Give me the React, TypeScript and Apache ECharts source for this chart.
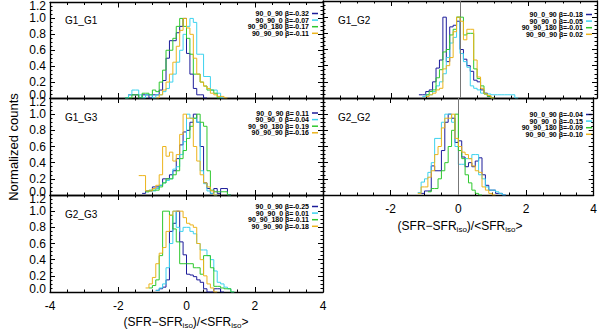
import React, { useEffect, useRef } from "react";
import * as echarts from "echarts";

// ---------- data ----------
const runNames = ["90_0_90", "90_90_0", "90_90_180", "90_90_90"];
const runColors = ["#1c1c9a", "#3cd2ee", "#2ec82e", "#ecb41c"];
const panelNames = ["G1_G1", "G1_G2", "G1_G3", "G2_G2", "G2_G3"];
const binWidth = 0.1;
const xTickValues = [-4, -2, 0, 2, 4];
const yTickValues = [0, 0.2, 0.4, 0.6, 0.8, 1.0, 1.2];

// beta per run (navy, cyan, green, gold)
const betaG1G1 = [-0.32, -0.07, -0.17, -0.11];
const betaG1G2 = [-0.18, -0.05, -0.01, 0.02];
const betaG1G3 = [0.11, -0.04, 0.19, -0.16];
const betaG2G2 = [-0.04, -0.15, -0.09, -0.1];
const betaG2G3 = [-0.25, 0.01, -0.11, -0.18];

// histogram left-edge start of first bin per run
const startG1G1 = [-1.8, -1.8, -1.8, -0.9];
const startG1G2 = [-1.2, -1.1, -1.0, -1.0];
const startG1G3 = [-1.3, -1.2, -1.2, -1.4];
const startG2G2 = [-1.1, -1.2, -0.9, -1.2];
const startG2G3 = [-0.9, -0.9, -1.1, -1.2];

// normalized counts
const navyG1G1 = [0, 0.04, 0.04, 0.04, 0, 0.04, 0.04, 0, 0.04, 0.04, 0.1, 0.22, 0.5, 0.72, 0.72, 0.82, 0.9, 1.0, 0.56, 0.3, 0.12, 0.04, 0.04, 0];
const cyanG1G1 = [0, 0.04, 0.1, 0.1, 0.04, 0, 0.04, 0.04, 0, 0.04, 0.04, 0.08, 0.12, 0.2, 0.3, 0.45, 0.6, 0.8, 0.9, 1.0, 0.95, 0.55, 0.55, 0.27, 0.27, 0.1, 0.1, 0.06, 0];
const greenG1G1 = [0, 0, 0.04, 0.04, 0, 0.06, 0.06, 0.04, 0.1, 0.08, 0.2, 0.35, 0.6, 0.6, 0.75, 0.9, 1.0, 0.9, 0.75, 0.55, 0.3, 0.3, 0.2, 0.15, 0.1, 0.1, 0.06, 0];
const goldG1G1 = [0, 0.04, 0.1, 0.2, 0.3, 0.45, 0.65, 0.85, 1.0, 0.88, 0.8, 0.5, 0.3, 0.2, 0.15, 0.12, 0.06, 0.04, 0.02, 0.02, 0];

const navyG1G2 = [0.04, 0.04, 0.08, 0.1, 0.2, 0.37, 0.47, 1.0, 0.45, 0.88, 0.9, 0.95, 0.6, 0.48, 0.4, 0.33, 0.22, 0.2, 0.1, 0.06, 0.02, 0];
const cyanG1G2 = [0.02, 0.04, 0.04, 0.08, 0.15, 0.2, 0.3, 0.5, 0.68, 0.75, 1.0, 0.55, 0.45, 0.38, 0.15, 0.12, 0.1, 0.06, 0.05, 0.05, 0.04, 0.04, 0.04, 0.04, 0.04, 0.04, 0.04, 0];
const greenG1G2 = [0.04, 0.08, 0.1, 0.25, 0.35, 0.57, 0.6, 0.78, 0.85, 1.0, 1.0, 0.78, 0.8, 0.8, 0.36, 0.24, 0.15, 0.05, 0.02, 0];
const goldG1G2 = [0.02, 0.04, 0.06, 0.1, 0.12, 0.36, 0.4, 0.5, 0.82, 1.0, 0.95, 0.72, 0.85, 0.85, 0.47, 0.26, 0.12, 0.05, 0.03, 0];

const navyG1G3 = [0.02, 0.05, 0.05, 0.1, 0.1, 0.12, 0.2, 0.2, 0.25, 0.3, 0.45, 0.62, 0.78, 0.8, 0.9, 1.0, 0.9, 0.6, 0.15, 0.08, 0.02, 0.08, 0.02, 0.08, 0.08, 0];
const cyanG1G3 = [0.04, 0.05, 0.05, 0.08, 0.12, 0.15, 0.18, 0.2, 0.32, 0.35, 0.5, 0.66, 1.0, 0.95, 0.95, 0.9, 0.3, 0.14, 0.05, 0.02, 0];
const greenG1G3 = [0.04, 0.06, 0.06, 0.06, 0.1, 0.15, 0.2, 0.2, 0.25, 0.3, 0.45, 0.55, 0.7, 0.85, 0.95, 1.0, 0.9, 0.85, 0.3, 0.06, 0.04, 0.04, 0.04, 0.04, 0];
const goldG1G3 = [0.24, 0.24, 0.05, 0.05, 0.08, 0.12, 0.25, 0.6, 0.48, 0.53, 0.42, 0.5, 0.75, 1.0, 0.95, 0.95, 0.6, 0.42, 0.25, 0.15, 0.1, 0.05, 0];

const navyG2G2 = [0.02, 0.05, 0.05, 0.36, 0.3, 0.3, 0.55, 0.9, 1.0, 0.95, 0.65, 0.67, 0.47, 0.35, 0.4, 0.35, 0.42, 0.46, 0.25, 0.12, 0.06, 0.06, 0.02, 0.02, 0];
const cyanG2G2 = [0.03, 0.16, 0.2, 0.28, 0.4, 0.7, 0.7, 0.9, 1.0, 1.0, 0.9, 0.6, 0.38, 0.38, 0.45, 0.45, 0.5, 0.5, 0.25, 0.2, 0.1, 0.06, 0.06, 0.04, 0.02, 0];
const greenG2G2 = [0.04, 0.08, 0.08, 0.2, 0.3, 0.4, 0.6, 0.8, 1.0, 0.55, 0.45, 0.25, 0.15, 0.06, 0.02, 0];
const goldG2G2 = [0.02, 0.1, 0.1, 0.22, 0.3, 0.5, 0.6, 0.83, 0.95, 0.95, 1.0, 0.7, 0.6, 0.53, 0.5, 0.45, 0.36, 0.3, 0.28, 0.1, 0.06, 0.02, 0];

const navyG2G3 = [0.02, 0.04, 0.06, 0.15, 0.75, 0.85, 1.0, 0.62, 0.46, 0.22, 0.21, 0.19, 0.15, 0.12, 0.04, 0, 0, 0.04, 0.04, 0];
const cyanG2G3 = [0.02, 0.05, 0.1, 0.3, 0.6, 1.0, 0.8, 0.75, 0.8, 0.8, 0.75, 0.72, 0.6, 0.52, 0.52, 0.45, 0.4, 0.26, 0.12, 0.1, 0.06, 0.04, 0];
const greenG2G3 = [0.05, 0.08, 0.15, 0.45, 1.0, 1.0, 0.95, 0.78, 0.62, 0.35, 0.35, 0.35, 0.35, 0.3, 0.3, 0.22, 0.45, 0.45, 0.3, 0.07, 0.07, 0.05, 0.04, 0.04, 0];
const goldG2G3 = [0.05, 0.1, 0.18, 0.35, 0.48, 0.55, 0.75, 0.95, 1.0, 1.0, 1.0, 0.92, 0.85, 0.83, 0.8, 0.6, 0.4, 0.2, 0.1, 0.05, 0];

const panelBetas = [betaG1G1, betaG1G2, betaG1G3, betaG2G2, betaG2G3];
const panelStarts = [startG1G1, startG1G2, startG1G3, startG2G2, startG2G3];
const panelCounts = [
  [navyG1G1, cyanG1G1, greenG1G1, goldG1G1],
  [navyG1G2, cyanG1G2, greenG1G2, goldG1G2],
  [navyG1G3, cyanG1G3, greenG1G3, goldG1G3],
  [navyG2G2, cyanG2G2, greenG2G2, goldG2G2],
  [navyG2G3, cyanG2G3, greenG2G3, goldG2G3],
];

// ---------- layout ----------
const FONT = "Liberation Sans, Arial, Helvetica, sans-serif";
const PANEL_H = 97;
const layout = [
  { left: 50, top: 1, width: 273, rightCol: false, xLabels: false, legendTop: 12.5 },
  { left: 323, top: 1, width: 274, rightCol: true, xLabels: false, legendTop: 13.5 },
  { left: 50, top: 98, width: 273, rightCol: false, xLabels: false, legendTop: 15 },
  { left: 323, top: 98, width: 274, rightCol: true, xLabels: true, legendTop: 16.5 },
  { left: 50, top: 195, width: 273, rightCol: false, xLabels: true, legendTop: 11.5 },
];

function toSteps(start: number, vals: number[]) {
  const d = vals.map((v, i) => [+(start + i * binWidth).toFixed(3), v]);
  d.push([+(start + vals.length * binWidth).toFixed(3), 0]);
  return d;
}

function betaText(b: number) {
  return b < 0 ? "β=-" + Math.abs(b).toFixed(2) : "β= " + b.toFixed(2);
}

function buildOption() {
  const grid: any[] = [];
  const xAxis: any[] = [];
  const yAxis: any[] = [];
  const series: any[] = [];
  const graphic: any[] = [];

  const tickCommon = {
    axisLine: { show: true, onZero: false, lineStyle: { color: "#000", width: 1.3 } },
    axisTick: { show: true, inside: true, length: 5, lineStyle: { color: "#000", width: 1 } },
    minorTick: { show: true, splitNumber: 4, length: 2.5, lineStyle: { color: "#000", width: 1 } },
    splitLine: { show: false },
    minorSplitLine: { show: false },
  };

  layout.forEach((L, p) => {
    grid.push({ left: L.left, top: L.top, width: L.width, height: PANEL_H, containLabel: false });
    const xMin = xTickValues[0];
    const xMax = xTickValues[xTickValues.length - 1];
    const yMax = yTickValues[yTickValues.length - 1];
    xAxis.push({
      gridIndex: p, type: "value", position: "bottom", min: xMin, max: xMax, interval: 2,
      ...tickCommon,
      axisLabel: {
        show: L.xLabels, color: "#000", fontSize: 12, fontFamily: FONT, margin: 8,
        formatter: (v: number) => (L.rightCol && v === xMin ? "" : String(v)),
      },
    });
    xAxis.push({
      gridIndex: p, type: "value", position: "top", min: xMin, max: xMax, interval: 2,
      ...tickCommon, axisLabel: { show: false },
    });
    yAxis.push({
      gridIndex: p, type: "value", position: "left", min: 0, max: yMax, interval: 0.2,
      ...tickCommon,
      axisLabel: {
        show: !L.rightCol, color: "#000", fontSize: 12, fontFamily: FONT, margin: 4,
        formatter: (v: number) => {
          const s = v.toFixed(1);
          if (Math.abs(v) < 1e-9) return "{lo|" + s + "}";
          if (Math.abs(v - yMax) < 1e-9) return "{hi|" + s + "}";
          return s;
        },
        rich: {
          lo: { padding: [0, 0, 7, 0], fontSize: 12, fontFamily: FONT, color: "#000" },
          hi: { padding: [7, 0, 0, 0], fontSize: 12, fontFamily: FONT, color: "#000" },
        },
      },
    });
    yAxis.push({
      gridIndex: p, type: "value", position: "right", min: 0, max: yMax, interval: 0.2,
      ...tickCommon, axisLabel: { show: false },
    });

    panelCounts[p].forEach((vals, r) => {
      const s: any = {
        type: "line",
        name: runNames[r],
        xAxisIndex: 2 * p,
        yAxisIndex: 2 * p,
        data: toSteps(panelStarts[p][r], vals),
        step: "end",
        showSymbol: false,
        symbol: "none",
        silent: true,
        z: 3 + r,
        lineStyle: { color: runColors[r], width: 1 },
      };
      if (r === 0 && L.rightCol) {
        s.markLine = {
          silent: true,
          symbol: ["none", "none"],
          label: { show: false },
          lineStyle: { color: "#777", width: 1, type: "solid" },
          data: [{ xAxis: 0 }],
        };
      }
      series.push(s);
    });

    graphic.push({
      type: "text", left: L.left + 15, top: L.top + 14, silent: true,
      style: { text: panelNames[p], fontSize: 10, fontFamily: FONT, fill: "#000" },
    });
    const right = L.left + L.width;
    runNames.forEach((nm, r) => {
      const y = L.top + L.legendTop + r * 6.6;
      graphic.push({
        type: "text", x: right - 14, y, silent: true,
        style: {
          text: nm + " " + betaText(panelBetas[p][r]),
          fontSize: 7, fontFamily: FONT, fontWeight: "bold", fill: "#000",
          align: "right", verticalAlign: "middle",
        },
      });
      graphic.push({
        type: "line", silent: true,
        shape: { x1: right - 11, y1: y, x2: right - 5, y2: y },
        style: { stroke: runColors[r], lineWidth: 1.5 },
      });
    });
  });

  const titleRich = {
    m: { fontSize: 12, fontFamily: FONT, fill: "#000", lineHeight: 14 },
    s: { fontSize: 8, fontFamily: FONT, fill: "#000", lineHeight: 6, verticalAlign: "bottom" },
  } as any;
  const titleText = "{m|(SFR−SFR}{s|iso}{m|)/<SFR}{s|iso}{m|>}";
  graphic.push({
    type: "text", x: 186, y: 322, silent: true,
    style: { text: titleText, rich: titleRich, align: "center", verticalAlign: "middle", fill: "#000" },
  });
  graphic.push({
    type: "text", x: 460, y: 226, silent: true,
    style: { text: titleText, rich: titleRich, align: "center", verticalAlign: "middle", fill: "#000" },
  });
  graphic.push({
    type: "text", x: 13, y: 147, rotation: Math.PI / 2, silent: true,
    style: {
      text: "Normalized counts", fontSize: 13, fontFamily: FONT, fill: "#000",
      align: "center", verticalAlign: "middle",
    },
  });

  return {
    animation: false,
    backgroundColor: "#fff",
    grid, xAxis, yAxis, series, graphic,
  };
}

export default function App() {
  const ref = useRef<HTMLDivElement>(null);
  useEffect(() => {
    if (!ref.current) return;
    const chart = echarts.init(ref.current, undefined, { renderer: "svg" });
    chart.setOption(buildOption() as any);
    return () => chart.dispose();
  }, []);
  return (
    <div
      ref={ref}
      style={{ position: "absolute", left: 0, top: 0, width: 600, height: 332, background: "#fff" }}
    />
  );
}
